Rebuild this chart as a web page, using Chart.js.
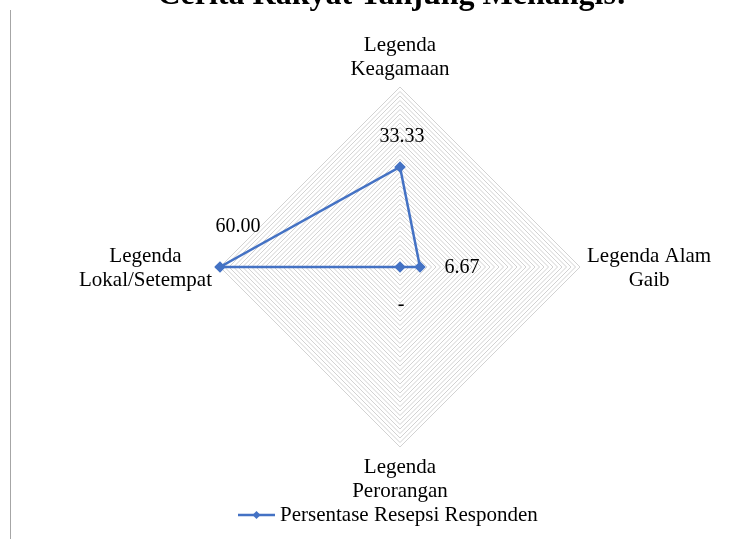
<!DOCTYPE html>
<html>
<head>
<meta charset="utf-8">
<script src="https://cdn.jsdelivr.net/npm/chart.js@4/dist/chart.umd.min.js"></script>
<style>
  body { margin: 0; background: #fff; }
  #wrap { position: relative; width: 751px; height: 539px; }
  #frame { position: absolute; left: 10px; top: 10px; width: 0; height: 529px; border-left: 1px solid #a6a6a6; }
</style>
</head>
<body>
<div id="wrap">
  <canvas id="chart" width="751" height="539"></canvas>
  <div id="frame"></div>
</div>
<script>
// data
const categories = [
    ['Legenda', 'Keagamaan'],
    ['Legenda Alam', 'Gaib'],
    ['Legenda', 'Perorangan'],
    ['Legenda', 'Lokal/Setempat']
];
const seriesName = 'Persentase Resepsi Responden';
const seriesValues = [33.33, 6.67, 0, 60.00];
const chartTitle = 'Cerita Rakyat Tanjung Menangis:';

const blue = '#4472C4';
const serif = '"Liberation Serif", "Times New Roman", serif';

// where each value label sits relative to its point
const labelOffsets = [[2, -30], [42, 1], [1, 38], [18, -40]];

const extrasPlugin = {
    id: 'extras',
    afterDraw(chart) {
        const ctx = chart.ctx;
        const scale = chart.scales.r;
        ctx.save();
        ctx.fillStyle = '#000';

        // title (cut at top edge like the original)
        ctx.font = 'bold 32px ' + serif;
        ctx.textAlign = 'center';
        ctx.textBaseline = 'alphabetic';
        ctx.fillText(chartTitle, 392, 4);

        // axis labels
        ctx.font = '21px ' + serif;
        ctx.textBaseline = 'middle';
        const lh = 24;
        categories.forEach((lines, i) => {
            const p = scale.getPointPosition(i, scale.drawingArea);
            const w = Math.max(...lines.map(l => ctx.measureText(l).width));
            let cx = p.x, top = p.y - lh / 2 * (lines.length - 1);
            if (i === 0) top = p.y - 18 - lh * (lines.length - 1);
            if (i === 2) top = p.y + 20;
            if (i === 1) { cx = p.x + 7 + w / 2; top = p.y - 11; }
            if (i === 3) { cx = p.x - 8 - w / 2; top = p.y - 11; }
            lines.forEach((l, k) => ctx.fillText(l, cx, top + k * lh));
        });

        // value labels
        ctx.font = '20px ' + serif;
        const meta = chart.getDatasetMeta(0);
        meta.data.forEach((pt, i) => {
            const v = seriesValues[i];
            const txt = v === 0 ? '-' : v.toFixed(2);
            ctx.fillText(txt, pt.x + labelOffsets[i][0], pt.y + labelOffsets[i][1]);
        });

        // legend
        const ly = 515;
        ctx.strokeStyle = blue;
        ctx.lineWidth = 2.5;
        ctx.beginPath();
        ctx.moveTo(238, ly);
        ctx.lineTo(275, ly);
        ctx.stroke();
        ctx.fillStyle = blue;
        ctx.beginPath();
        ctx.moveTo(256.5, ly - 4);
        ctx.lineTo(260.5, ly);
        ctx.lineTo(256.5, ly + 4);
        ctx.lineTo(252.5, ly);
        ctx.closePath();
        ctx.fill();
        ctx.fillStyle = '#000';
        ctx.font = '21px ' + serif;
        ctx.textAlign = 'left';
        ctx.fillText(seriesName, 280, ly);
        ctx.restore();
    }
};

new Chart(document.getElementById('chart').getContext('2d'), {
    type: 'radar',
    data: {
        labels: categories,
        datasets: [{
            label: seriesName,
            data: seriesValues,
            borderColor: blue,
            backgroundColor: blue,
            borderWidth: 2.5,
            fill: false,
            pointStyle: 'rectRot',
            pointRadius: 4,
            pointHoverRadius: 4,
            tension: 0
        }]
    },
    options: {
        responsive: false,
        animation: false,
        layout: {
            padding: { left: 220, right: 171, top: 87, bottom: 92 }
        },
        scales: {
            r: {
                min: 0,
                max: 60,
                angleLines: { display: false },
                grid: { color: '#d2d2d2', lineWidth: 1 },
                ticks: { display: false, stepSize: 1.5 },
                pointLabels: { display: false }
            }
        },
        plugins: {
            legend: { display: false },
            tooltip: { enabled: false }
        }
    },
    plugins: [extrasPlugin]
});
</script>
</body>
</html>
